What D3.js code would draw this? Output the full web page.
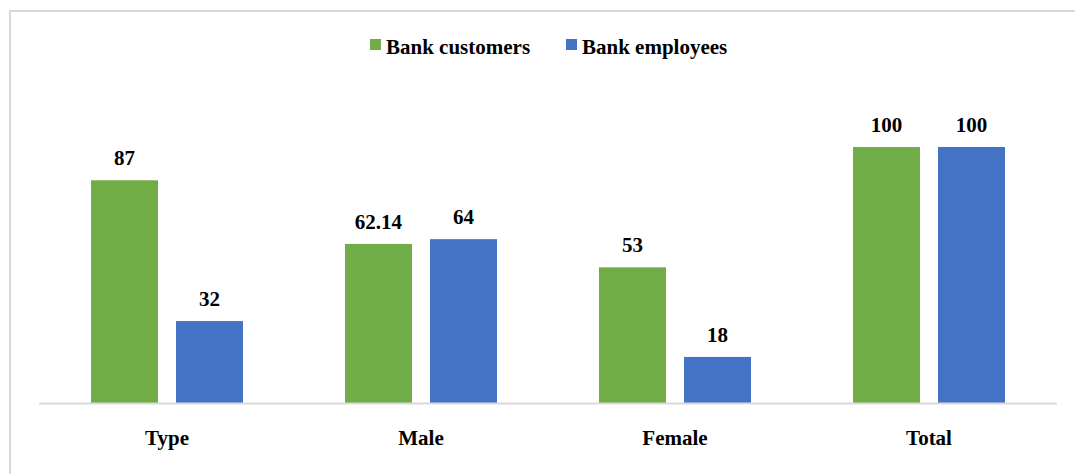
<!DOCTYPE html>
<html>
<head>
<meta charset="utf-8">
<script src="https://cdn.jsdelivr.net/npm/d3@7"></script>
<style>
  body { margin: 0; background: #fff; }
</style>
</head>
<body>
<div id="chart"></div>
<script>
var categories = ["Type", "Male", "Female", "Total"];
var seriesNames = ["Bank customers", "Bank employees"];
var customers = [87, 62.14, 53, 100];
var employees = [32, 64, 18, 100];
var colors = ["#70ad47", "#4472c4"];

var width = 1075;
var height = 474;
var plotLeft = 40, plotRight = 1056, plotBottom = 403, plotTop = 147;
var fontSize = "21px";
var fontFamily = "'Liberation Serif', 'Times New Roman', serif";

var svg = d3.select("#chart").append("svg")
  .attr("width", width)
  .attr("height", height);

// outer chart border (only top/left visible in the crop)
svg.append("rect")
  .attr("x", 10).attr("y", 11)
  .attr("width", width + 20).attr("height", height + 20)
  .style("fill", "none")
  .style("stroke", "#d9d9d9")
  .style("stroke-width", 2);

var x0 = d3.scaleBand()
  .domain(categories)
  .range([plotLeft, plotRight]);

var x1 = d3.scaleBand()
  .domain(seriesNames)
  .range([0, x0.bandwidth()])
  .paddingInner(0.212)
  .paddingOuter(0.6);

var y = d3.scaleLinear()
  .domain([0, 100])
  .range([plotBottom, plotTop]);

var rows = categories.map(function(c, i) {
  return { cat: c, values: [customers[i], employees[i]] };
});

var groups = svg.selectAll("g.cat")
  .data(rows)
  .enter().append("g")
  .attr("class", "cat")
  .attr("transform", function(d) { return "translate(" + x0(d.cat) + ",0)"; });

groups.selectAll("rect")
  .data(function(d) {
    return d.values.map(function(v, j) { return { name: seriesNames[j], value: v, j: j }; });
  })
  .enter().append("rect")
  .attr("x", function(d) { return x1(d.name); })
  .attr("y", function(d) { return y(d.value); })
  .attr("width", x1.bandwidth())
  .attr("height", function(d) { return plotBottom - y(d.value); })
  .style("fill", function(d) { return colors[d.j]; });

groups.selectAll("text.val")
  .data(function(d) {
    return d.values.map(function(v, j) { return { name: seriesNames[j], value: v }; });
  })
  .enter().append("text")
  .attr("class", "val")
  .attr("x", function(d) { return x1(d.name) + x1.bandwidth() / 2; })
  .attr("y", function(d) { return y(d.value) - 15; })
  .attr("text-anchor", "middle")
  .text(function(d) { return d.value; });

// baseline
svg.append("line")
  .attr("x1", 39).attr("x2", 1057)
  .attr("y1", plotBottom + 0.5).attr("y2", plotBottom + 0.5)
  .style("stroke", "#d9d9d9")
  .style("stroke-width", 2);

var xAxis = d3.axisBottom(x0).tickSize(0).tickPadding(0);
var axisG = svg.append("g")
  .attr("transform", "translate(0," + plotBottom + ")")
  .call(xAxis);
axisG.select(".domain").remove();
axisG.selectAll("text")
  .attr("dy", null)
  .attr("y", 42);

// legend
var legendItems = [{ x: 370, tx: 386 }, { x: 566, tx: 582 }];
var legend = svg.selectAll("g.legend")
  .data(seriesNames)
  .enter().append("g")
  .attr("class", "legend");
legend.append("rect")
  .attr("x", function(d, i) { return legendItems[i].x; })
  .attr("y", 39)
  .attr("width", 11).attr("height", 11)
  .style("fill", function(d, i) { return colors[i]; });
legend.append("text")
  .attr("x", function(d, i) { return legendItems[i].tx; })
  .attr("y", 54)
  .text(function(d) { return d; });

// same bold serif for every label
svg.selectAll("text")
  .style("font-family", fontFamily)
  .style("font-weight", "bold")
  .style("font-size", fontSize)
  .style("fill", "#000");
</script>
</body>
</html>
